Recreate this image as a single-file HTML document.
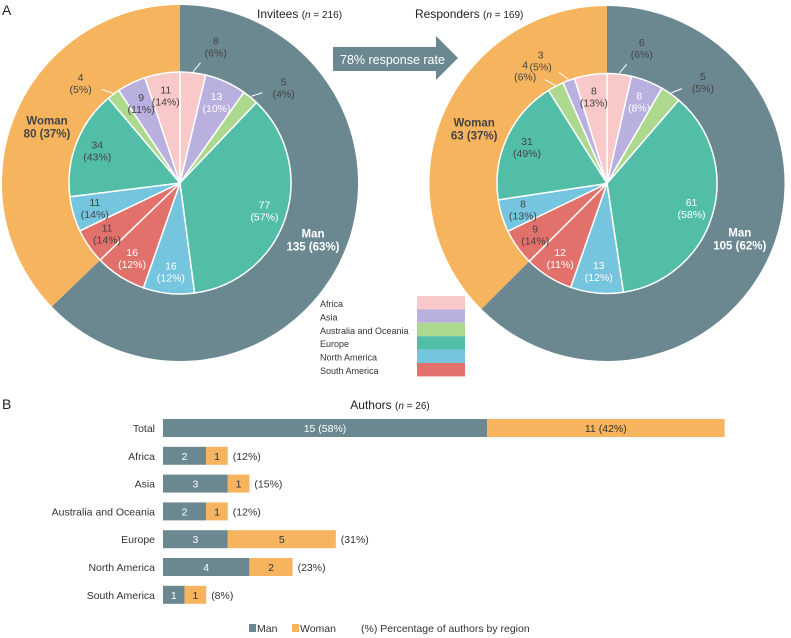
<!DOCTYPE html>
<html><head><meta charset="utf-8">
<style>
body{margin:0;background:#fff;}
svg{display:block;font-family:"Liberation Sans",Arial,sans-serif;}
</style></head>
<body>
<svg id="fig" width="791" height="638" viewBox="0 0 791 638">
<text x="2" y="15" font-size="14" fill="#222">A</text>
<text x="2" y="409" font-size="14" fill="#222">B</text>
<text x="257" y="18" font-size="12" fill="#222">Invitees <tspan font-size="10">(<tspan font-style="italic">n</tspan> = 216)</tspan></text>
<text x="415" y="18" font-size="12" fill="#222">Responders <tspan font-size="10">(<tspan font-style="italic">n</tspan> = 169)</tspan></text>
<g>
<polygon points="333,47 436,47 436,36 458,58 436,80 436,71 333,71" fill="#6b8890"/>
<text x="340" y="64" font-size="12.5" fill="#fff">78% response rate</text>
</g>
<g id="pies"></g>
<g id="legend"></g>
<text x="390" y="409" font-size="12" fill="#222" text-anchor="middle">Authors <tspan font-size="10">(<tspan font-style="italic">n</tspan> = 26)</tspan></text>
<g id="bars"></g>
<g>
<rect x="249" y="624" width="7" height="8" fill="#6b8890"/>
<text x="257" y="632" font-size="10.5" fill="#333">Man</text>
<rect x="292" y="624" width="7" height="8" fill="#f7b45e"/>
<text x="300" y="632" font-size="10.5" fill="#333">Woman</text>
<text x="361" y="632" font-size="10.5" fill="#333">(%) Percentage of authors by region</text>
</g>
</svg>
<script>
const regions=["Africa","Asia","Australia and Oceania","Europe","North America","South America"];
const regionColors=["#f9c8c8","#b9b0e0","#acd98e","#52bea8","#76c5df","#e2706b"];
const manColor="#6b8890", womanColor="#f7b45e";
// Invitees
const invMan=[8,13,5,77,16,16];
const invManPct=["6%","10%","4%","57%","12%","12%"];
const invWoman=[11,9,4,34,11,11];
const invWomanPct=["14%","11%","5%","43%","14%","14%"];
const invTotals=[135,80];
const invTotalPct=["63%","37%"];
// Responders
const resMan=[6,8,5,61,13,12];
const resManPct=["6%","8%","5%","58%","12%","11%"];
const resWoman=[8,3,4,31,8,9];
const resWomanPct=["13%","5%","6%","49%","13%","14%"];
const resTotals=[105,63];
const resTotalPct=["62%","37%"];
// Authors
const authorCats=["Total","Africa","Asia","Australia and Oceania","Europe","North America","South America"];
const authorMan=[15,2,3,2,3,4,1];
const authorWoman=[11,1,1,1,5,2,1];
const authorPctLabels=["","(12%)","(15%)","(12%)","(31%)","(23%)","(8%)"];
const totalLabels=["15 (58%)","11 (42%)"];

const NS="http://www.w3.org/2000/svg";
function mk(tag,attrs,parent){const e=document.createElementNS(NS,tag);for(const k in attrs)e.setAttribute(k,attrs[k]);parent.appendChild(e);return e;}
function pt(cx,cy,r,a){const t=a*Math.PI/180;return [cx+r*Math.sin(t),cy-r*Math.cos(t)];}
function arcPath(cx,cy,r,a0,a1){const p0=pt(cx,cy,r,a0),p1=pt(cx,cy,r,a1);const lg=(a1-a0)>180?1:0;return `M${cx},${cy}L${p0[0]},${p0[1]}A${r},${r} 0 ${lg} 1 ${p1[0]},${p1[1]}Z`;}

function drawPie(name,cx,cy,R,ri,man,manPct,woman,womanPct,totals,totalPct){
  const g=mk("g",{},document.getElementById("pies"));
  
  
  const tot=totals[0]+totals[1];
  const aMan=totals[0]/tot*360;
  const o1=mk("path",{d:arcPath(cx,cy,R,0,aMan),fill:manColor},g);
  
  
  const o2=mk("path",{d:arcPath(cx,cy,R,aMan,360),fill:womanColor},g);
  
  
  const innerTot=man.reduce((a,b)=>a+b,0)+woman.reduce((a,b)=>a+b,0);
  const slices=[];
  man.forEach((v,i)=>slices.push({v,pct:manPct[i],c:regionColors[i],side:"man",reg:regions[i]}));
  for(let i=5;i>=0;i--)slices.push({v:woman[i],pct:womanPct[i],c:regionColors[i],side:"woman",reg:regions[i]});
  let a=0;
  slices.forEach(s=>{
    const span=s.v/innerTot*360;
    const p=mk("path",{d:arcPath(cx,cy,ri,a,a+span),fill:s.c,stroke:"#fff","stroke-width":"1.5"},g);
    
    
    const mid=a+span/2;
    const small=s.v/innerTot<0.04;
    let lp,col;
    if(small){
      lp=pt(cx,cy,ri*1.27,mid+(s.side=="man"?8:-8));
      col="#444";
      const l0=pt(cx,cy,ri*1.01,mid),l1=pt(cx,cy,ri*1.1,mid+(s.side=="man"?3:-3));
      const ln=mk("line",{x1:l0[0],y1:l0[1],x2:l1[0],y2:l1[1],stroke:"#fff","stroke-width":"1"},g);
      
      
    }else{
      lp=pt(cx,cy,ri*0.8,mid);
      col=(s.side=="man"&&s.reg!="Africa")?"#fff":"#444";
    }
    const t=mk("text",{x:lp[0],y:lp[1]-2,"font-size":"10.5",fill:col,"text-anchor":"middle"},g);
    
    
    mk("tspan",{x:lp[0]},t).textContent=s.v;
    mk("tspan",{x:lp[0],dy:"12"},t).textContent="("+s.pct+")";
    a+=span;
  });
  const rm=(R+ri)/2;
  const mp=pt(cx,cy,rm,aMan/2), wp=pt(cx,cy,rm,aMan+(360-aMan)/2);
  [[mp,"Man",totals[0]+" ("+totalPct[0]+")","#fff","outer-man-label"],[wp,"Woman",totals[1]+" ("+totalPct[1]+")","#444","outer-woman-label"]].forEach(d=>{
    const t=mk("text",{x:d[0][0],y:d[0][1]-2,"font-size":"11.5","font-weight":"bold",fill:d[3],"text-anchor":"middle"},g);
    
    
    mk("tspan",{x:d[0][0]},t).textContent=d[1];
    mk("tspan",{x:d[0][0],dy:"13"},t).textContent=d[2];
  });
}
drawPie("invitees-pie",180,183,178,111,invMan,invManPct,invWoman,invWomanPct,invTotals,invTotalPct);
drawPie("responders-pie",607,183.5,177.5,110,resMan,resManPct,resWoman,resWomanPct,resTotals,resTotalPct);

const lg=document.getElementById("legend");
regions.forEach((r,i)=>{
  const t=mk("text",{x:320,y:307+i*13.4,"font-size":"9",fill:"#333"},lg);
  
  
  t.textContent=r;
  const s=mk("rect",{x:417,y:296+i*13.4,width:48,height:13.4,fill:regionColors[i]},lg);
  
  
});

const bg=document.getElementById("bars");
const x0=163, unit=21.6, bh=18;
function yRow(i){return 428+i*27.8;}
authorCats.forEach((c,i)=>{
  const y=yRow(i);
  const lab=mk("text",{x:155,y:y+4,"font-size":"10.5",fill:"#333","text-anchor":"end"},bg);
  
  
  lab.textContent=c;
  const wm=authorMan[i]*unit, ww=authorWoman[i]*unit;
  const r1=mk("rect",{x:x0,y:y-bh/2,width:wm,height:bh,fill:manColor},bg);
  
  
  const r2=mk("rect",{x:x0+wm,y:y-bh/2,width:ww,height:bh,fill:womanColor},bg);
  
  
  const t1=mk("text",{x:x0+wm/2,y:y+4,"font-size":"10.5",fill:"#fff","text-anchor":"middle"},bg);
  
  
  t1.textContent=i==0?totalLabels[0]:authorMan[i];
  const t2=mk("text",{x:x0+wm+ww/2,y:y+4,"font-size":"10.5",fill:"#333","text-anchor":"middle"},bg);
  
  
  t2.textContent=i==0?totalLabels[1]:authorWoman[i];
  if(authorPctLabels[i]){
    const t3=mk("text",{x:x0+wm+ww+5,y:y+4,"font-size":"10.5",fill:"#333"},bg);
    
    
    t3.textContent=authorPctLabels[i];
  }
});
</script>
</body></html>
